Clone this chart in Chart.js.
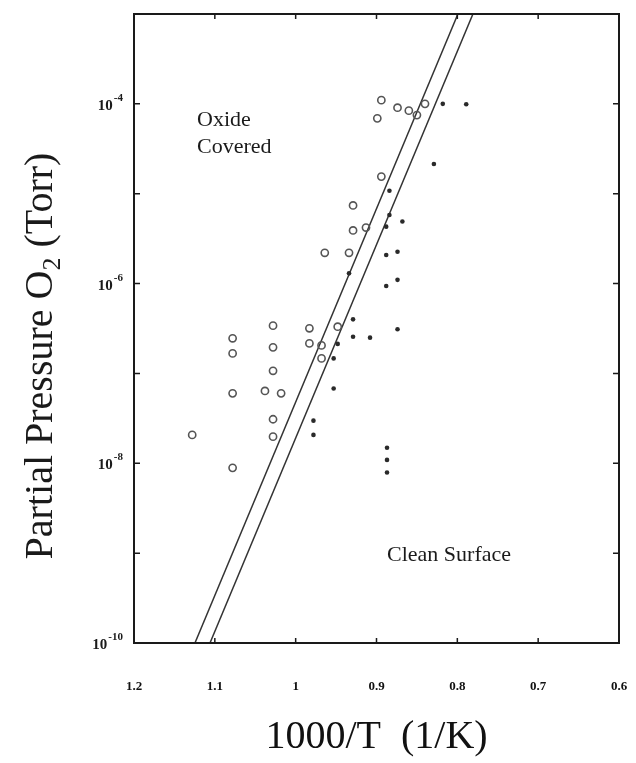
<!DOCTYPE html>
<html><head><meta charset="utf-8">
<script src="https://cdn.jsdelivr.net/npm/chart.js@4"></script>
<style>html,body{margin:0;padding:0;background:#fff}canvas{display:block}</style>
</head><body>
<canvas id="c" width="636" height="763"></canvas>
<script>
// Open circles: oxide-covered observations (1000/T, P_O2 in Torr)
const oxideX = [0.894, 0.874, 0.860, 0.840, 0.850, 0.899, 0.894, 0.929, 0.929, 0.913,
  0.964, 0.934, 0.983, 0.948, 0.983, 0.968, 0.968, 1.028, 1.078, 1.028,
  1.078, 1.028, 1.078, 1.038, 1.018, 1.028, 1.128, 1.028, 1.078];
const oxideP = [1.10e-4, 9.06e-5, 8.4e-5, 1.0e-4, 7.5e-5, 6.9e-5, 1.55e-5, 7.4e-6, 3.9e-6, 4.2e-6,
  2.2e-6, 2.2e-6, 3.18e-7, 3.31e-7, 2.16e-7, 2.05e-7, 1.47e-7, 3.40e-7, 2.46e-7, 1.95e-7,
  1.67e-7, 1.07e-7, 6.0e-8, 6.38e-8, 6.0e-8, 3.09e-8, 2.07e-8, 1.98e-8, 8.9e-9];
// Filled dots: clean-surface observations
const cleanX = [0.818, 0.789, 0.829, 0.884, 0.884, 0.868, 0.888, 0.888, 0.874, 0.934,
  0.888, 0.874, 0.929, 0.874, 0.929, 0.908, 0.948, 0.953, 0.953, 0.978,
  0.978, 0.887, 0.887, 0.887];
const cleanP = [1.0e-4, 9.9e-5, 2.14e-5, 1.08e-5, 5.8e-6, 4.9e-6, 4.3e-6, 2.08e-6, 2.26e-6, 1.30e-6,
  9.4e-7, 1.10e-6, 4.0e-7, 3.10e-7, 2.56e-7, 2.50e-7, 2.13e-7, 1.47e-7, 6.8e-8, 2.98e-8,
  2.07e-8, 1.49e-8, 1.09e-8, 7.9e-9];
// Two parallel boundary lines
const boundaryAX = [1.1246, 0.7993];
const boundaryAP = [1e-10, 1e-3];
const boundaryBX = [1.106, 0.7807];
const boundaryBP = [1e-10, 1e-3];
// Axis ticks
const xTicks = [1.2, 1.1, 1.0, 0.9, 0.8, 0.7, 0.6];
const xTickLabels = ['1.2', '1.1', '1', '0.9', '0.8', '0.7', '0.6'];
const yTicks = [1e-10, 1e-9, 1e-8, 1e-7, 1e-6, 1e-5, 1e-4, 1e-3];
const yTickBase = ['10', '', '10', '', '10', '', '10', ''];
const yTickExp = ['-10', '', '-8', '', '-6', '', '-4', ''];
// Titles
const yTitleMain = 'Partial Pressure O';
const yTitleSub = '2';
const yTitleEnd = ' (Torr)';
const xTitle = '1000/T  (1/K)';
// Region labels
const regionText = ['Oxide', 'Covered', 'Clean Surface'];
const regionX = [1.122, 1.122, 0.887];
const regionP = [5.7e-5, 2.84e-5, 8.2e-10];

const SERIF = '"Liberation Serif", "Times New Roman", "DejaVu Serif", serif';
const toPts = (xs, ys) => xs.map((x, i) => ({x: x, y: ys[i]}));

const frame = {
  id: 'frame',
  afterDatasetsDraw(chart) {
    const {ctx, chartArea: a, scales: {x, y}} = chart;
    ctx.save();
    ctx.strokeStyle = '#1a1a1a';
    ctx.lineWidth = 2;
    ctx.strokeRect(a.left, a.top, a.right - a.left, a.bottom - a.top);
    ctx.lineWidth = 1.5;
    ctx.beginPath();
    xTicks.forEach(v => {
      const px = x.getPixelForValue(v);
      if (px <= a.left + 2 || px >= a.right - 2) return;
      ctx.moveTo(px, a.bottom); ctx.lineTo(px, a.bottom - 5);
      ctx.moveTo(px, a.top); ctx.lineTo(px, a.top + 5);
    });
    yTicks.forEach(v => {
      const py = y.getPixelForValue(v);
      if (py <= a.top + 2 || py >= a.bottom - 2) return;
      ctx.moveTo(a.left, py); ctx.lineTo(a.left + 6, py);
      ctx.moveTo(a.right, py); ctx.lineTo(a.right - 6, py);
    });
    ctx.stroke();
    ctx.fillStyle = '#1a1a1a';
    // region labels
    ctx.font = '22px ' + SERIF;
    ctx.textBaseline = 'alphabetic';
    ctx.textAlign = 'left';
    regionText.forEach((t, i) => {
      ctx.fillText(t, x.getPixelForValue(regionX[i]), y.getPixelForValue(regionP[i]));
    });
    // y tick labels with superscript exponents
    const baseFont = 'bold 15px ' + SERIF, expFont = 'bold 11px ' + SERIF;
    yTicks.forEach((v, i) => {
      if (!yTickBase[i]) return;
      const py = y.getPixelForValue(v);
      ctx.font = expFont;
      const ew = ctx.measureText(yTickExp[i]).width;
      ctx.font = baseFont;
      const bw = ctx.measureText(yTickBase[i]).width;
      const right = a.left - 11;
      ctx.textAlign = 'left';
      ctx.fillText(yTickBase[i], right - ew - bw - 1, py + 6);
      ctx.font = expFont;
      ctx.fillText(yTickExp[i], right - ew, py - 3);
    });
    // y axis title with subscript
    const tFont = '40px ' + SERIF, sFont = '26px ' + SERIF;
    ctx.font = tFont;
    const w1 = ctx.measureText(yTitleMain).width, w3 = ctx.measureText(yTitleEnd).width;
    ctx.font = sFont;
    const w2 = ctx.measureText(yTitleSub).width;
    const total = w1 + w2 + w3;
    ctx.translate(52, 356);
    ctx.rotate(-Math.PI / 2);
    let sx = -total / 2;
    ctx.font = tFont; ctx.fillText(yTitleMain, sx, 0); sx += w1;
    ctx.font = sFont; ctx.fillText(yTitleSub, sx, 8); sx += w2;
    ctx.font = tFont; ctx.fillText(yTitleEnd, sx, 0);
    ctx.restore();
  }
};

new Chart(document.getElementById('c'), {
  type: 'scatter',
  data: {
    datasets: [
      {label: 'Oxide covered', data: toPts(oxideX, oxideP), pointStyle: 'circle',
        pointRadius: 3.6, pointBorderWidth: 1.6, borderColor: '#555', backgroundColor: 'rgba(0,0,0,0)'},
      {label: 'Clean surface', data: toPts(cleanX, cleanP), pointStyle: 'circle',
        pointRadius: 2.3, pointBorderWidth: 0, borderColor: '#2a2a2a', backgroundColor: '#2a2a2a'},
      {label: 'Boundary A', type: 'line', data: toPts(boundaryAX, boundaryAP), showLine: true,
        borderColor: '#333', borderWidth: 1.5, pointRadius: 0, fill: false},
      {label: 'Boundary B', type: 'line', data: toPts(boundaryBX, boundaryBP), showLine: true,
        borderColor: '#333', borderWidth: 1.5, pointRadius: 0, fill: false}
    ]
  },
  options: {
    responsive: false,
    animation: false,
    devicePixelRatio: 1,
    layout: {padding: {left: 0, right: 17, top: 14, bottom: 0}},
    plugins: {legend: {display: false}, tooltip: {enabled: false}},
    scales: {
      x: {
        type: 'linear', reverse: true, min: 0.6, max: 1.2,
        afterBuildTicks: s => { s.ticks = xTicks.map(v => ({value: v})); },
        afterFit: s => { s.height = 120; },
        grid: {display: false, drawTicks: true, tickLength: 34},
        border: {display: false},
        ticks: {
          padding: 2, color: '#111', maxRotation: 0, autoSkip: false,
          font: {family: SERIF, size: 13, weight: 'bold'},
          callback: (v) => { const i = xTicks.findIndex(t => Math.abs(t - v) < 1e-6); return i >= 0 ? xTickLabels[i] : ''; }
        },
        title: {display: true, text: xTitle, color: '#111',
          font: {family: SERIF, size: 40}, padding: {top: 0, bottom: 2}}
      },
      y: {
        type: 'logarithmic', min: 1e-10, max: 1e-3,
        afterBuildTicks: s => { s.ticks = yTicks.map(v => ({value: v})); },
        afterFit: s => { s.width = 134; },
        grid: {display: false, drawTicks: false},
        border: {display: false},
        ticks: {display: false}
      }
    }
  },
  plugins: [frame]
});
</script>
</body></html>
